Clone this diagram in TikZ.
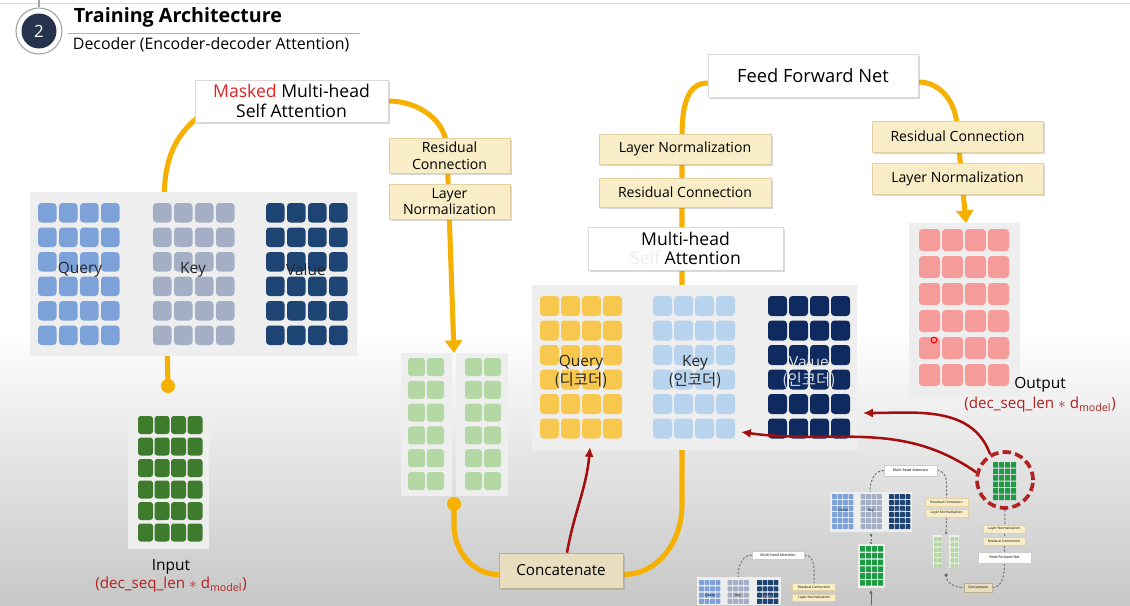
\documentclass[tikz,border=0pt]{standalone}
\usepackage{fontspec}
\setmainfont{Open Sans}
\newfontfamily\krfont{Noto Sans CJK KR}
\usetikzlibrary{calc, shadows, arrows.meta}

\definecolor{flowyellow}{HTML}{F5B000}
\definecolor{lnfill}{HTML}{F8EDC6}
\definecolor{lnedge}{HTML}{E1D1A0}
\definecolor{catfill}{HTML}{E8DEBF}
\definecolor{catedge}{HTML}{B9AF92}
\definecolor{qblue}{HTML}{7DA2DA}
\definecolor{kgrey}{HTML}{A4AFC6}
\definecolor{vnavy}{HTML}{1E4473}
\definecolor{qyellow}{HTML}{F8C84E}
\definecolor{kblue}{HTML}{B7D3EE}
\definecolor{vdark}{HTML}{0E2A5E}
\definecolor{ingreen}{HTML}{3E7B2C}
\definecolor{catgreen}{HTML}{B4D8A4}
\definecolor{outpink}{HTML}{F59C9A}
\definecolor{arrowred}{HTML}{A50E0E}
\definecolor{shapered}{HTML}{B22222}
\definecolor{panelbg}{HTML}{EEEEEE}
\definecolor{titlenavy}{HTML}{27334D}
\definecolor{thumbgreen}{HTML}{1E9A45}
\definecolor{maskred}{HTML}{E02424}

\pgfdeclarelayer{back}
\pgfdeclarelayer{flows}
\pgfsetlayers{back,flows,main}

\newcommand{\tokens}[9]{%
  \foreach \gx in {1,...,#3}{%
    \foreach \gy in {1,...,#4}{%
      \fill[#9] ({#1+(\gx-1)*#5},{#2+(\gy-1)*#6}) rectangle ++(#7,#8);
    }%
  }%
}

\begin{document}
\begin{tikzpicture}[x=0.025cm, y=-0.025cm,
    flow/.style={draw=flowyellow, line width=3.6pt},
    flowtip/.style={-{Triangle[width=12pt,length=9pt]}},
    flowdot/.style={circle, fill=flowyellow, inner sep=0pt, minimum size=10pt},
    cell/.style={rounded corners=2.5pt},
    tcell/.style={rounded corners=0.4pt},
    boxshadow/.style={drop shadow={shadow xshift=1.3pt, shadow yshift=-1.3pt, opacity=0.3}},
    whitebox/.style={draw=black!15, fill=white, boxshadow, align=center, inner sep=0pt},
    lnbox/.style={draw=lnedge, fill=lnfill, boxshadow, align=center, inner sep=0pt, font=\fontsize{10}{12}\selectfont},
    catbox/.style={draw=catedge, fill=catfill, boxshadow, inner sep=0pt, font=\fontsize{10.8}{13}\selectfont},
    redarrow/.style={draw=arrowred, line width=1.8pt, -{Latex[length=7pt,width=6.5pt]}},
    gridlabel/.style={font=\fontsize{11}{13}\selectfont, text=black!85, align=center},
    shapelabel/.style={font=\fontsize{10.8}{13}\selectfont, text=shapered},
    tbox/.style={draw=black!20, fill=white, inner sep=0pt, font=\fontsize{2.6}{3}\selectfont},
    tln/.style={draw=lnedge, fill=lnfill, inner sep=0pt, font=\fontsize{2.4}{3}\selectfont},
    tlabel/.style={font=\fontsize{2.4}{3}\selectfont, inner sep=0pt},
    tdash/.style={draw=black!55, line width=0.7pt, dash pattern=on 1.6pt off 1.2pt}
  ]
  \def\pu{0.025cm}

  \useasboundingbox (0,0) rectangle (1130,605);

  \begin{pgfonlayer}{back}
    \fill[white] (0,0) rectangle (1130,605);
    \shade[top color=white, bottom color=black!22] (0,330) rectangle (1130,605);
    \draw[black!15] (0,3) -- (1130,3);
  \end{pgfonlayer}

  % heading
  \node[circle, draw=black!35, line width=0.8pt, minimum size=46*\pu, inner sep=0pt] (badgering) at (39,31) {};
  \node[circle, fill=titlenavy, text=white, minimum size=35*\pu, inner sep=0pt, font=\fontsize{12}{14}\selectfont] (badge) at (39,31) {2};
  \draw[black!35, line width=0.8pt] (badgering.north) -- ++(0,-8);
  \node[anchor=west, font=\fontsize{14}{16}\selectfont\bfseries] (title) at (69,17) {Training Architecture};
  \draw[black!30] (68,33) -- (360,33);
  \node[anchor=west, font=\fontsize{11.3}{13}\selectfont] (subtitle) at (68,45) {Decoder (Encoder-decoder Attention)};

  % masked self attention
  \fill[panelbg] (30,192) rectangle (357,356);
  \tokens{38}{203}{4}{6}{21}{24.5}{18.5}{19.5}{qblue, cell}
  \tokens{153}{203}{4}{6}{21}{24.5}{18.5}{19.5}{kgrey, cell}
  \tokens{266}{203}{4}{6}{21}{24.5}{18.5}{19.5}{vnavy, cell}
  \node[gridlabel] (qlabel) at (80,270) {Query};
  \node[gridlabel] (klabel) at (193,270) {Key};
  \node[gridlabel] (vlabel) at (306,270) {Value};

  \node[flowdot] (indot) at (168,386) {};
  \fill[panelbg] (128,409) rectangle (209,549);
  \tokens{138}{416}{4}{6}{16.5}{21.5}{15}{18}{ingreen, rounded corners=2pt}
  \node[font=\fontsize{11}{13}\selectfont] (inlabel) at (171,567) {Input};
  \node[shapelabel] (inshape) at (171,585) {(dec\_seq\_len $\ast$ d\textsubscript{model})};

  \node[whitebox, minimum width=193*\pu, minimum height=42*\pu, font=\fontsize{12.5}{14}\selectfont] (mmsa) at (291.5,101)
    {\textcolor{maskred}{Masked} Multi-head\\Self Attention};
  \node[lnbox, minimum width=121*\pu, minimum height=35*\pu] (rc1) at (449.5,155.5) {Residual\\Connection};
  \node[lnbox, minimum width=121*\pu, minimum height=35*\pu] (ln1) at (449.5,201.5) {Layer\\Normalization};

  \fill[panelbg] (401,353) rectangle (452,496);
  \fill[panelbg] (456,353) rectangle (508,496);
  \tokens{408}{358}{2}{6}{19}{22.8}{17}{18}{catgreen, rounded corners=2pt}
  \tokens{465}{358}{2}{6}{19}{22.8}{17}{18}{catgreen, rounded corners=2pt}
  \coordinate (pairtop) at (454,353);
  \node[flowdot] (pairdot) at (454,504) {};

  \node[catbox, minimum width=124*\pu, minimum height=35*\pu] (concat) at (561,570.5) {Concatenate};

  % encoder-decoder attention
  \fill[panelbg] (532,285) rectangle (857,450);
  \tokens{540}{296}{4}{6}{21}{24.5}{19}{20}{qyellow, cell}
  \tokens{653}{296}{4}{6}{21}{24.5}{19}{20}{kblue, cell}
  \tokens{768}{296}{4}{6}{21}{24.5}{19}{20}{vdark, cell}
  \node[gridlabel] (qlabel2) at (581,372) {Query\\{\krfont (디코더)}};
  \node[gridlabel] (klabel2) at (695,372) {Key\\{\krfont (인코더)}};
  \node[gridlabel, text=black!12] (vlabel2) at (809,372) {Value\\{\krfont (인코더)}};
  \coordinate (qbot) at (590,447);
  \coordinate (kcorner) at (741,432);
  \coordinate (vright) at (863,413);

  \node[whitebox, minimum width=195*\pu, minimum height=43*\pu, font=\fontsize{12.5}{14}\selectfont] (mha) at (685.5,248.5)
    {Multi-head\\\textcolor{black!7}{Self} Attention};
  \node[lnbox, minimum width=172*\pu, minimum height=29*\pu] (rc2) at (685,192.5) {Residual Connection};
  \node[lnbox, minimum width=172*\pu, minimum height=30*\pu] (ln2) at (685,149) {Layer Normalization};
  \node[whitebox, minimum width=210*\pu, minimum height=43*\pu, font=\fontsize{13}{15}\selectfont] (ffn) at (813,76) {Feed Forward Net};
  \node[lnbox, minimum width=171*\pu, minimum height=31*\pu] (rc3) at (957.5,136.5) {Residual Connection};
  \node[lnbox, minimum width=171*\pu, minimum height=31*\pu] (ln3) at (957.5,178.5) {Layer Normalization};

  \fill[panelbg] (909,223) rectangle (1020,397);
  \tokens{919}{229}{4}{6}{23}{27}{21}{22}{outpink, cell}
  \node[circle, draw=red, line width=0.8pt, inner sep=0pt, minimum size=4pt] (cursor) at (934,340) {};
  \node[font=\fontsize{11}{13}\selectfont] (outlabel) at (1040,385) {Output};
  \node[shapelabel] (outshape) at (1040,405) {(dec\_seq\_len $\ast$ d\textsubscript{model})};

  % small copy of the model
  \node[tbox, minimum width=53*\pu, minimum height=11*\pu] (tmha) at (910.5,470.5) {Multi-head Attention};
  \fill[panelbg] (830,492) rectangle (912,532);
  \tokens{832}{494}{4}{6}{5.5}{6}{4.8}{5}{qblue, tcell}
  \tokens{860.5}{494}{4}{6}{5.5}{6}{4.8}{5}{kgrey, tcell}
  \tokens{889}{494}{4}{6}{5.5}{6}{4.8}{5}{vnavy, tcell}
  \node[tlabel] (tq) at (843,511) {Query};
  \node[tlabel] (tk) at (871,511) {Key};
  \node[tlabel, text=black!20] (tv) at (900,511) {Value};
  \node[tln, minimum width=43*\pu, minimum height=8*\pu] (trc) at (946.5,502) {Residual Connection};
  \node[tln, minimum width=43*\pu, minimum height=8*\pu] (tln) at (946.5,513) {Layer Normalization};
  \fill[panelbg] (933,535) rectangle (942,568);
  \fill[panelbg] (949,535) rectangle (959,568);
  \tokens{934}{537}{2}{6}{4.2}{5.3}{3.6}{4.4}{catgreen, tcell}
  \tokens{950.5}{537}{2}{6}{4.2}{5.3}{3.6}{4.4}{catgreen, tcell}
  \node[circle, fill=black!60, inner sep=0pt, minimum size=2.5pt] (tdot) at (946,575) {};
  \node[tln, fill=catfill, draw=catedge, minimum width=28*\pu, minimum height=9*\pu] (tcat) at (978,587.5) {Concatenate};
  \node[tbox, minimum width=53*\pu, minimum height=11*\pu] (tffn) at (1004.5,557.5) {Feed Forward Net};
  \node[tln, minimum width=42*\pu, minimum height=8*\pu] (trc2) at (1004,541) {Residual Connection};
  \node[tln, minimum width=42*\pu, minimum height=8*\pu] (tln2) at (1004,529) {Layer Normalization};
  \fill[panelbg] (858,544) rectangle (885,588);
  \tokens{860}{546}{4}{6}{6}{6.8}{5.2}{5.6}{thumbgreen, tcell}
  \node[circle, fill=black!60, inner sep=0pt, minimum size=2pt] (tpdot) at (871,535) {};
  \coordinate (tgtop) at (871,545);
  \coordinate (tgbot) at (871,590);
  \coordinate (tbase) at (871,605);

  \node[tbox, minimum width=52*\pu, minimum height=8*\pu] (tmha2) at (778,555) {Multi-head Attention};
  \fill[panelbg] (697,577) rectangle (781,605);
  \tokens{699}{580}{4}{4}{5.5}{6.3}{4.8}{5}{qblue, tcell}
  \tokens{727.5}{580}{4}{4}{5.5}{6.3}{4.8}{5}{kgrey, tcell}
  \tokens{757}{580}{4}{4}{5.5}{6.3}{4.8}{5}{vnavy, tcell}
  \node[tlabel] (tq2) at (710,596) {Query};
  \node[tlabel] (tk2) at (738,596) {Key};
  \node[tlabel, text=black!20] (tv2) at (768,596) {Value};
  \node[tln, minimum width=43*\pu, minimum height=7*\pu] (trc4) at (814,587) {Residual Connection};
  \node[tln, minimum width=43*\pu, minimum height=7*\pu] (tln4) at (814,597.5) {Layer Normalization};

  \node[circle, draw=shapered, line width=2.6pt, dash pattern=on 6pt off 3pt, minimum size=56*\pu, inner sep=0pt] (ring) at (1005,480) {};
  \tokens{993}{462}{4}{6}{6}{6.5}{5.2}{5.6}{thumbgreen, tcell}

  \begin{pgfonlayer}{flows}
    \draw[flow] (indot.center) -- (164,205) to[out=90,in=220] ($(mmsa.south west)+(2,-4)$);
    \draw[flow, flowtip] (mmsa.east) to[out=0,in=90] (447,150) -- (pairtop);
    \draw[flow] (pairdot.center) -- (454,525) to[out=-90,in=180] ($(concat.west)+(0,4)$);
    \draw[flow] ($(concat.east)+(0,4)$) to[out=0,in=-90] (682,505) -- (682,140) to[out=90,in=180] ($(ffn.west)+(0,7)$);
    \draw[flow, flowtip] ($(ffn.east)+(0,6)$) to[out=0,in=90] (957,128) -- (966,223);

    \draw[tdash] (tmha.west) to[out=180,in=90] (870,492);
    \draw[tdash] (tmha.east) to[out=0,in=90] (trc.north);
    \draw[tdash, -{Latex[length=2pt,width=2pt]}] (tln.south) -- (946,535);
    \draw[tdash] (tdot.center) to[out=-90,in=180] (tcat.west);
    \draw[tdash] (tcat.east) to[out=0,in=-90] (tffn.south);
    \draw[tdash] (tffn.north) -- (ring.south);
    \draw[tdash, -{Latex[length=2pt,width=2pt]}] (tpdot.center) -- (tgtop);
    \draw[black!60, line width=0.7pt, -{Latex[length=2.5pt,width=2.5pt]}] (tbase) -- (tgbot);
    \draw[tdash] (tmha2.west) to[out=180,in=90] (738,577);
    \draw[tdash] (tmha2.east) to[out=0,in=90] (trc4.north);
  \end{pgfonlayer}

  \draw[redarrow] ($(concat.north)+(6,0)$) to[out=80,in=-95] (qbot);
  \draw[redarrow] (ring.120) to[out=110,in=0] (vright);
  \draw[redarrow] (ring.165) to[out=145,in=-8] (kcorner);
\end{tikzpicture}
\end{document}
